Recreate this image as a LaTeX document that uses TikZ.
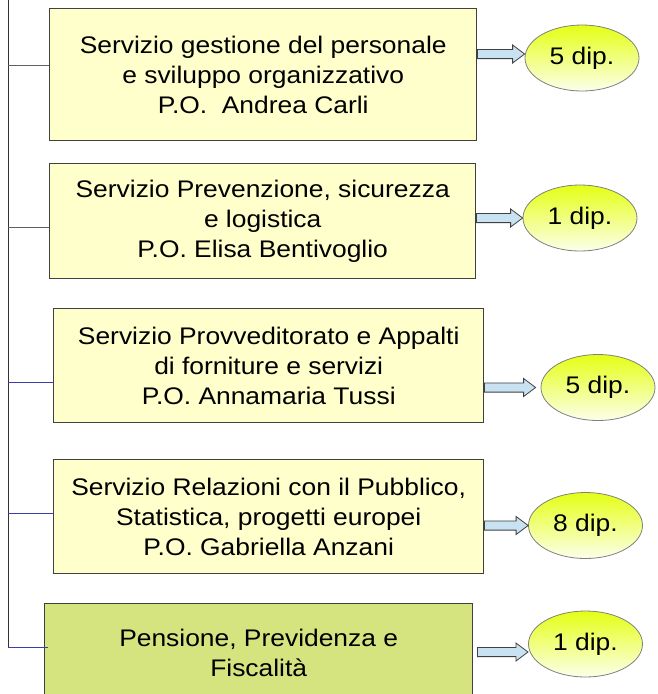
\documentclass[tikz,border=0pt]{standalone}
\usepackage{fontspec}
\setmainfont{Liberation Sans}[FakeStretch=1.1]
\usetikzlibrary{shapes.geometric,calc}
\definecolor{boxyellow}{RGB}{255,255,204}
\definecolor{boxgreen}{RGB}{214,228,128}
\definecolor{boxline}{RGB}{64,64,64}
\definecolor{ellyellow}{RGB}{228,255,20}
\definecolor{ellpale}{RGB}{252,255,235}
\definecolor{arrfill}{RGB}{200,226,242}
\definecolor{linkgray}{RGB}{96,96,96}
\definecolor{linkblue}{RGB}{60,60,170}
\begin{document}
\begin{tikzpicture}[x=1pt, y=-1pt]
\tikzstyle{every node}=[inner sep=0pt, align=center, font=\fontsize{24}{30}\selectfont]
\tikzstyle{svcbox}=[draw=boxline, line width=1.4pt, fill=boxyellow, anchor=north west]
\tikzstyle{dipcount}=[ellipse, draw=gray, line width=0.8pt, top color=ellyellow, bottom color=ellpale,
minimum width=114pt, minimum height=66pt]
\tikzstyle{trunk}=[draw=black!80, line width=1pt]
\tikzstyle{branchgray}=[draw=linkgray, line width=1pt]
\tikzstyle{branchblue}=[draw=linkblue, line width=1pt]
\tikzstyle{blockarr}=[draw=boxline, line width=0.8pt, fill=arrfill, line join=miter,
to path={let \p1=(\tikztostart), \p2=(\tikztotarget) in
(\x1,\y2+4.6pt) -- (\x2-12pt,\y2+4.6pt) -- (\x2-12pt,\y2+9pt) -- (\x2,\y2)
-- (\x2-12pt,\y2-9pt) -- (\x2-12pt,\y2-4.6pt) -- (\x1,\y2-4.6pt) -- cycle}]

\useasboundingbox (0,0) rectangle (657,694);
\clip (0,0) rectangle (657,694);

% servizi
\node[svcbox, minimum width=427pt, minimum height=132pt] (s1) at (49,8)
{Servizio gestione del personale\\ e sviluppo organizzativo\\ P.O.\ \ Andrea Carli};
\node[svcbox, minimum width=426pt, minimum height=115pt] (s2) at (49,163)
{Servizio Prevenzione, sicurezza\\ e logistica\\ P.O. Elisa Bentivoglio};
\node[svcbox, minimum width=430pt, minimum height=114pt] (s3) at (53,308)
{Servizio Provveditorato e Appalti\\ di forniture e servizi\\ P.O. Annamaria Tussi};
\node[svcbox, minimum width=430pt, minimum height=114pt] (s4) at (53,459)
{Servizio Relazioni con il Pubblico,\\ Statistica, progetti europei\\ P.O. Gabriella Anzani};
\node[svcbox, fill=boxgreen, minimum width=428pt, minimum height=98pt] (s5) at (44,603)
{Pensione, Previdenza e\\ Fiscalità};

% dipendenti
\node[dipcount] (e1) at (582,58) {5 dip.};
\node[dipcount] (e2) at (580,218) {1 dip.};
\node[dipcount] (e3) at (598,387.5) {5 dip.};
\node[dipcount] (e4) at (585.5,525.5) {8 dip.};
\node[dipcount] (e5) at (585.5,644) {1 dip.};

% linea verticale
\coordinate (top) at (8,0);
\coordinate (j1) at (8,65);
\coordinate (j2) at (8,227);
\coordinate (j3) at (8,382);
\coordinate (j4) at (8,513);
\coordinate (j5) at (8,647);
\draw[trunk] (top) -- (j5);
\draw[branchgray] (j1) -- (j1 -| s1.west);
\draw[branchgray] (j2) -- (j2 -| s2.west);
\draw[branchblue] (j3) -- (j3 -| s3.west);
\draw[branchblue] (j4) -- (j4 -| s4.west);
\draw[branchblue] (j5) -- ([xshift=4pt]j5 -| s5.west);

% frecce
\coordinate (t1) at ([yshift=4pt]e1.west);
\coordinate (t3) at ([xshift=-5pt]e3.west);
\coordinate (t5) at (528,652);
\draw[blockarr] (s1.east |- t1) to (t1);
\draw[blockarr] (s2.east |- e2.west) to (e2.west);
\draw[blockarr] (s3.east |- t3) to (t3);
\draw[blockarr] (s4.east |- e4.west) to (e4.west);
\draw[blockarr] ([xshift=4pt]s5.east |- t5) to (t5);

\end{tikzpicture}
\end{document}
